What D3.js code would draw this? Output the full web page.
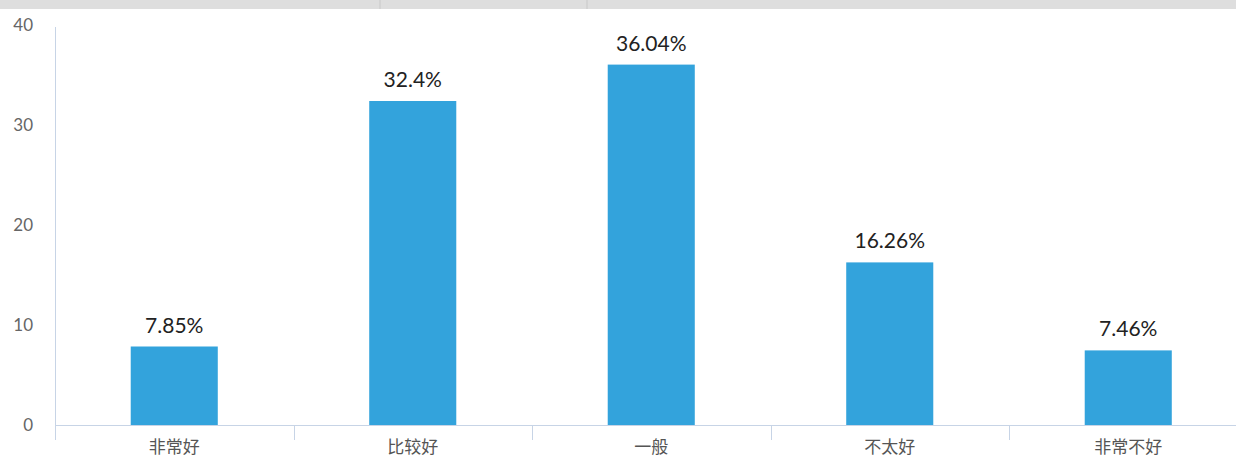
<!DOCTYPE html>
<html>
<head>
<meta charset="utf-8">
<script src="https://cdn.jsdelivr.net/npm/d3@7"></script>
<style>
  body { margin: 0; background: #fff; }
  svg { display: block; font-family: "Noto Sans CJK SC", "Open Sans", sans-serif; }
</style>
</head>
<body>
<div id="chart"></div>
<script>
const dim = { width: 1236, height: 458 }

// data
const categories = ['非常好', '比较好', '一般', '不太好', '非常不好']
const values = [7.85, 32.4, 36.04, 16.26, 7.46]
const yTicks = [0, 10, 20, 30, 40]

const svg = d3.select('#chart')
    .append('svg')
        .attr('width', dim.width)
        .attr('height', dim.height)

// grey strip at the top (spreadsheet header)
svg.append('rect')
    .attr('x', 0).attr('y', 0)
    .attr('width', dim.width).attr('height', 9)
    .attr('fill', '#dedede')
svg.selectAll('line.sep')
    .data([380, 587])
    .join('line')
        .attr('class', 'sep')
        .attr('x1', d => d).attr('x2', d => d)
        .attr('y1', 0).attr('y2', 9)
        .attr('stroke', '#c8c8c8')

// scales
const band = 238.5
const xScale = d3.scaleBand()
    .domain(categories)
    .range([55, 55 + band * categories.length])
    .paddingInner(0.635)
    .paddingOuter(0.3175)

const yScale = d3.scaleLinear()
    .domain([0, 40])
    .range([425, 25])

const axisColor = '#c7d4e6'

// y axis
svg.append('line')
    .attr('x1', 55.5).attr('x2', 55.5)
    .attr('y1', yScale(40) + 2).attr('y2', 440)
    .attr('stroke', axisColor)

svg.append('g')
    .selectAll('text')
    .data(yTicks)
    .join('text')
        .attr('x', 33)
        .attr('y', d => yScale(d))
        .attr('dy', '0.35em')
        .attr('text-anchor', 'end')
        .attr('font-family', 'Lato, "Open Sans", sans-serif')
        .attr('font-size', 17)
        .attr('fill', '#666')
        .text(d => d)

// bars
svg.append('g')
    .selectAll('rect')
    .data(values)
    .join('rect')
        .attr('x', (d, i) => xScale(categories[i]))
        .attr('y', d => yScale(d))
        .attr('width', xScale.bandwidth())
        .attr('height', d => yScale(0) - yScale(d))
        .attr('fill', '#33a3dc')

// value labels
svg.append('g')
    .selectAll('text')
    .data(values)
    .join('text')
        .attr('x', (d, i) => xScale(categories[i]) + xScale.bandwidth() / 2)
        .attr('y', d => yScale(d) - 14)
        .attr('text-anchor', 'middle')
        .attr('font-family', 'Lato, "Open Sans", sans-serif')
        .attr('font-size', 21)
        .attr('fill', '#222')
        .text(d => d + '%')

// x axis
svg.append('line')
    .attr('x1', 55).attr('x2', dim.width)
    .attr('y1', 425.5).attr('y2', 425.5)
    .attr('stroke', axisColor)

svg.append('g')
    .selectAll('line')
    .data(d3.range(1, categories.length))
    .join('line')
        .attr('x1', d => Math.round(55 + band * d) + 0.5)
        .attr('x2', d => Math.round(55 + band * d) + 0.5)
        .attr('y1', 425).attr('y2', 440)
        .attr('stroke', axisColor)

svg.append('g')
    .selectAll('text')
    .data(categories)
    .join('text')
        .attr('x', d => xScale(d) + xScale.bandwidth() / 2)
        .attr('y', 447)
        .attr('dy', '0.35em')
        .attr('text-anchor', 'middle')
        .attr('font-size', 17)
        .attr('fill', '#555')
        .text(d => d)
</script>
</body>
</html>
